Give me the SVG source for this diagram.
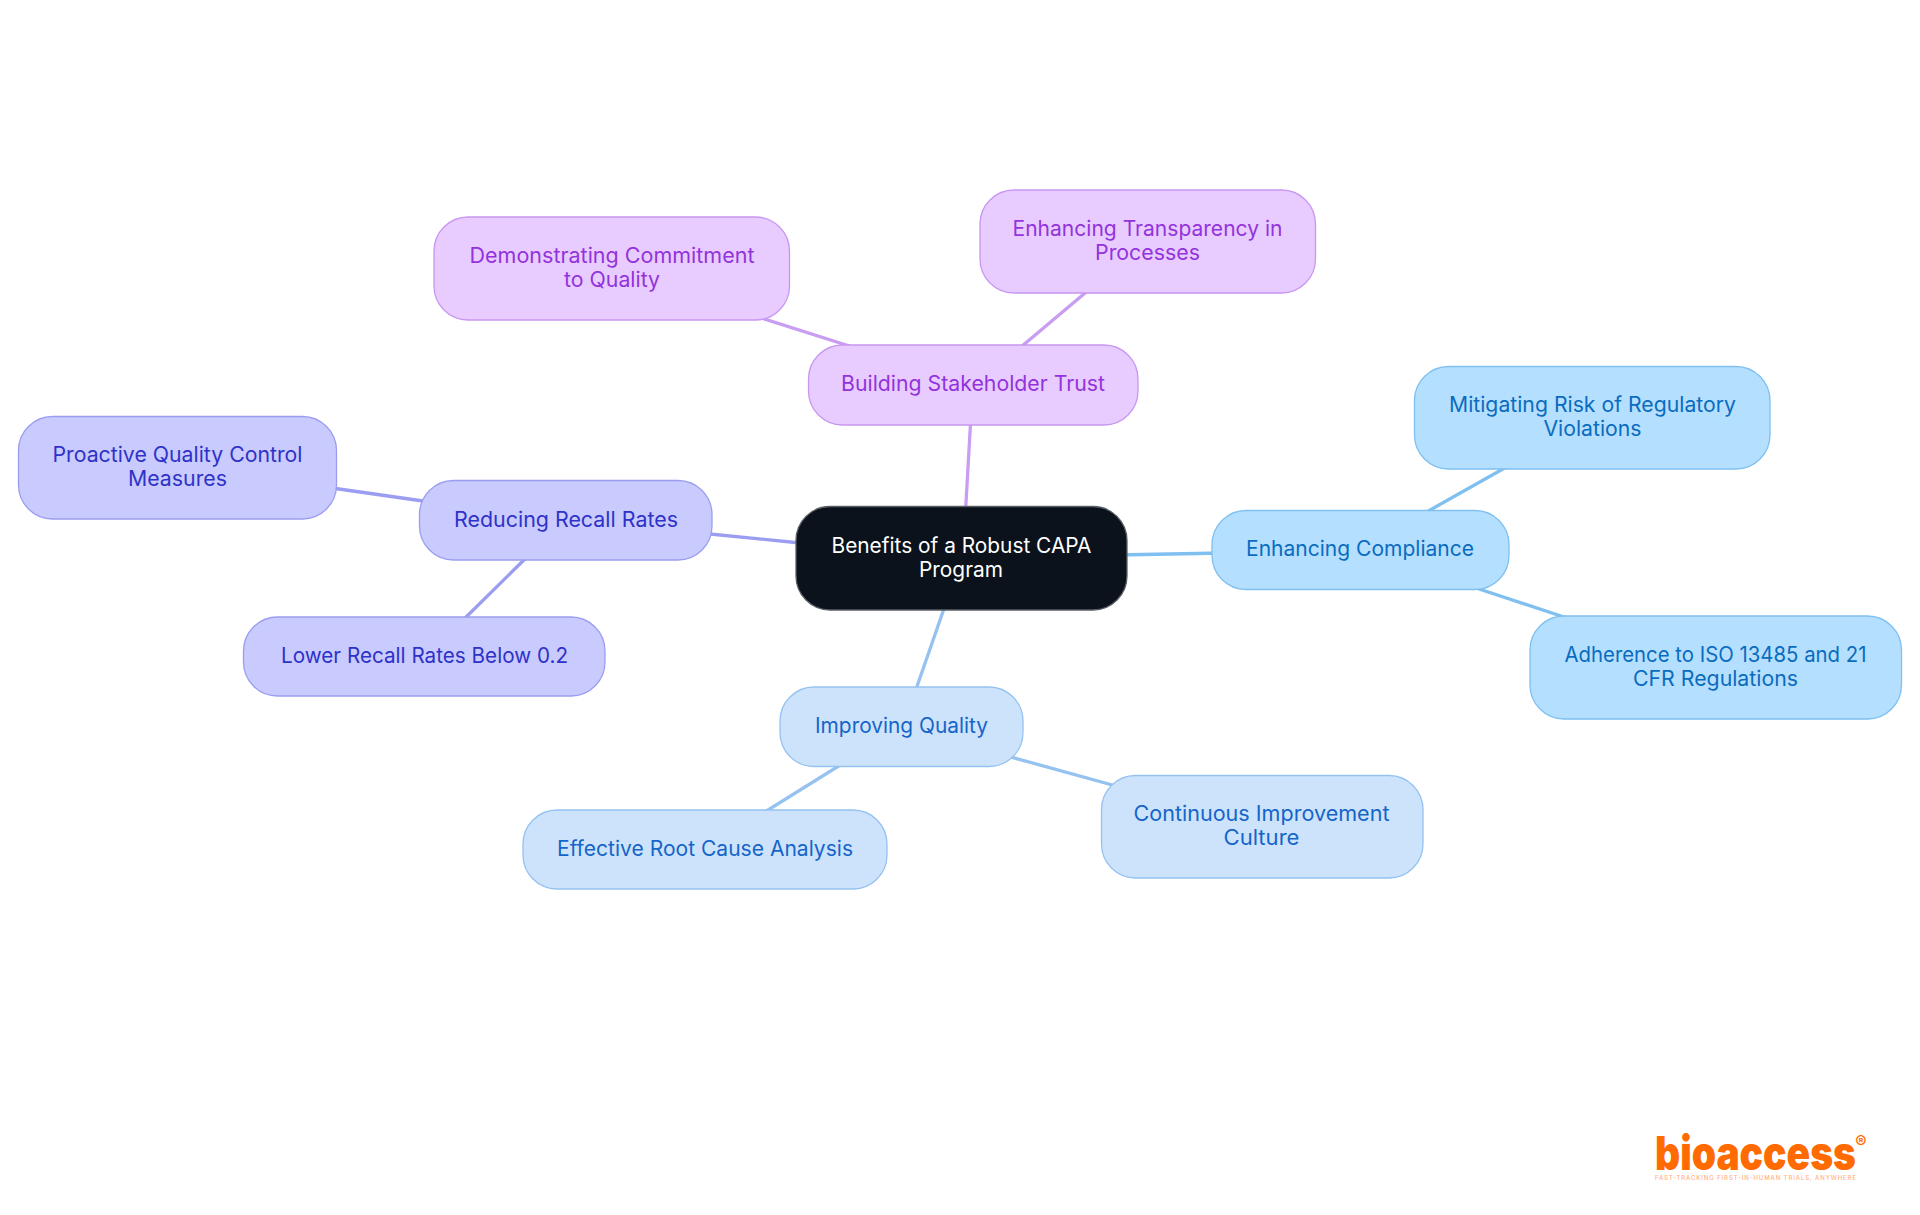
<svg xmlns="http://www.w3.org/2000/svg" width="1920" height="1215" viewBox="0 0 1920 1215">
<style>
text{font-family:"Inter","Noto Sans","Liberation Sans",sans-serif;font-size:21px;text-anchor:middle}
rect{stroke-width:1.3}
.c line{fill:none;stroke-width:3.3}
.r rect{fill:#0b121b;stroke:#5a5f66}.r text{fill:#fff}
.p rect{fill:#e8ccff;stroke:#c897f0}.p text{fill:#9333dc}
.i rect{fill:#c9cbff;stroke:#9b9df0}.i text{fill:#2f32c8}
.s rect{fill:#b5dfff;stroke:#7fc0f0}.s text{fill:#0a6cbe}
.l rect{fill:#cde3fc;stroke:#95c2f0}.l text{fill:#1565c8}
.lp{stroke:#c89df2}.li{stroke:#9b9df0}.ls{stroke:#7fc0f0}.ll{stroke:#95c2f0}
</style>
<rect x="0" y="0" width="1920" height="1215" style="fill:#fff;stroke:none"/>
<g id="connectors" class="c">
<line class="lp" x1="965" y1="520" x2="971" y2="415"/>
<line class="li" x1="810" y1="544" x2="700" y2="533"/>
<line class="ls" x1="1115" y1="555" x2="1225" y2="553"/>
<line class="ll" x1="947" y1="600" x2="914" y2="695"/>
<line class="lp" x1="755" y1="316" x2="862" y2="350"/>
<line class="lp" x1="1091" y1="288" x2="1015" y2="352"/>
<line class="li" x1="325" y1="487" x2="430" y2="502"/>
<line class="li" x1="530" y1="554" x2="460" y2="623"/>
<line class="ls" x1="1510" y1="465" x2="1423" y2="514"/>
<line class="ls" x1="1470" y1="586" x2="1570" y2="619"/>
<line class="ll" x1="845" y1="762" x2="760" y2="815"/>
<line class="ll" x1="1000" y1="754" x2="1125" y2="788.500"/>
</g>
<g id="center" class="r"><rect x="796" y="506.500" width="331" height="103.500" rx="34"/><text x="961.500" y="553" textLength="260" lengthAdjust="spacingAndGlyphs">Benefits of a Robust CAPA</text><text x="961" y="576.500" textLength="84" lengthAdjust="spacingAndGlyphs">Program</text></g>
<g id="building-trust" class="p"><rect x="808.500" y="345" width="329.500" height="80" rx="34"/><text x="973" y="391" textLength="264" lengthAdjust="spacingAndGlyphs">Building Stakeholder Trust</text></g>
<g id="commitment" class="p"><rect x="434" y="217" width="355.500" height="103" rx="34"/><text x="612" y="263" textLength="285" lengthAdjust="spacingAndGlyphs">Demonstrating Commitment</text><text x="612" y="287" textLength="96" lengthAdjust="spacingAndGlyphs">to Quality</text></g>
<g id="transparency" class="p"><rect x="980" y="190" width="335.500" height="103" rx="34"/><text x="1147.500" y="236" textLength="270" lengthAdjust="spacingAndGlyphs">Enhancing Transparency in</text><text x="1147.500" y="260" textLength="105" lengthAdjust="spacingAndGlyphs">Processes</text></g>
<g id="recall" class="i"><rect x="419.500" y="480.500" width="292.500" height="79.500" rx="34"/><text x="566" y="527" textLength="224" lengthAdjust="spacingAndGlyphs">Reducing Recall Rates</text></g>
<g id="proactive" class="i"><rect x="18.500" y="416.500" width="318" height="102.500" rx="34"/><text x="177.500" y="462" textLength="250" lengthAdjust="spacingAndGlyphs">Proactive Quality Control</text><text x="177.500" y="486" textLength="99" lengthAdjust="spacingAndGlyphs">Measures</text></g>
<g id="lower" class="i"><rect x="243.500" y="617" width="361.500" height="79" rx="34"/><text x="424.500" y="663" textLength="287" lengthAdjust="spacingAndGlyphs">Lower Recall Rates Below 0.2</text></g>
<g id="compliance" class="s"><rect x="1212" y="510.500" width="297" height="79" rx="34"/><text x="1360" y="556" textLength="228" lengthAdjust="spacingAndGlyphs">Enhancing Compliance</text></g>
<g id="mitigating" class="s"><rect x="1414.500" y="366.500" width="355.500" height="102.500" rx="34"/><text x="1592.500" y="412" textLength="287" lengthAdjust="spacingAndGlyphs">Mitigating Risk of Regulatory</text><text x="1592.500" y="436" textLength="98" lengthAdjust="spacingAndGlyphs">Violations</text></g>
<g id="adherence" class="s"><rect x="1530" y="616" width="371.500" height="103" rx="34"/><text x="1715.500" y="662" textLength="302" lengthAdjust="spacingAndGlyphs">Adherence to ISO 13485 and 21</text><text x="1715.500" y="686" textLength="165" lengthAdjust="spacingAndGlyphs">CFR Regulations</text></g>
<g id="quality" class="l"><rect x="780" y="687" width="243" height="79.500" rx="34"/><text x="901.500" y="733" textLength="173" lengthAdjust="spacingAndGlyphs">Improving Quality</text></g>
<g id="root-cause" class="l"><rect x="523" y="810" width="364" height="79" rx="34"/><text x="705" y="856" textLength="296" lengthAdjust="spacingAndGlyphs">Effective Root Cause Analysis</text></g>
<g id="culture" class="l"><rect x="1101.500" y="775.500" width="321.500" height="102.500" rx="34"/><text x="1261.500" y="821" textLength="256" lengthAdjust="spacingAndGlyphs">Continuous Improvement</text><text x="1261.500" y="845" textLength="76" lengthAdjust="spacingAndGlyphs">Culture</text></g>
<g id="logo">
<text x="1755.500" y="1170" textLength="201" lengthAdjust="spacingAndGlyphs" style="font-size:47px;font-weight:900;fill:#ff6b00">bioaccess</text>
<text x="1861" y="1148" style="font-size:17px;font-weight:700;fill:#ff6b00">®</text>
<text x="1755.500" y="1180" textLength="201" lengthAdjust="spacing" style="font-size:6px;font-weight:500;fill:#ffb27f">FAST-TRACKING FIRST-IN-HUMAN TRIALS, ANYWHERE</text>
</g>
</svg>
